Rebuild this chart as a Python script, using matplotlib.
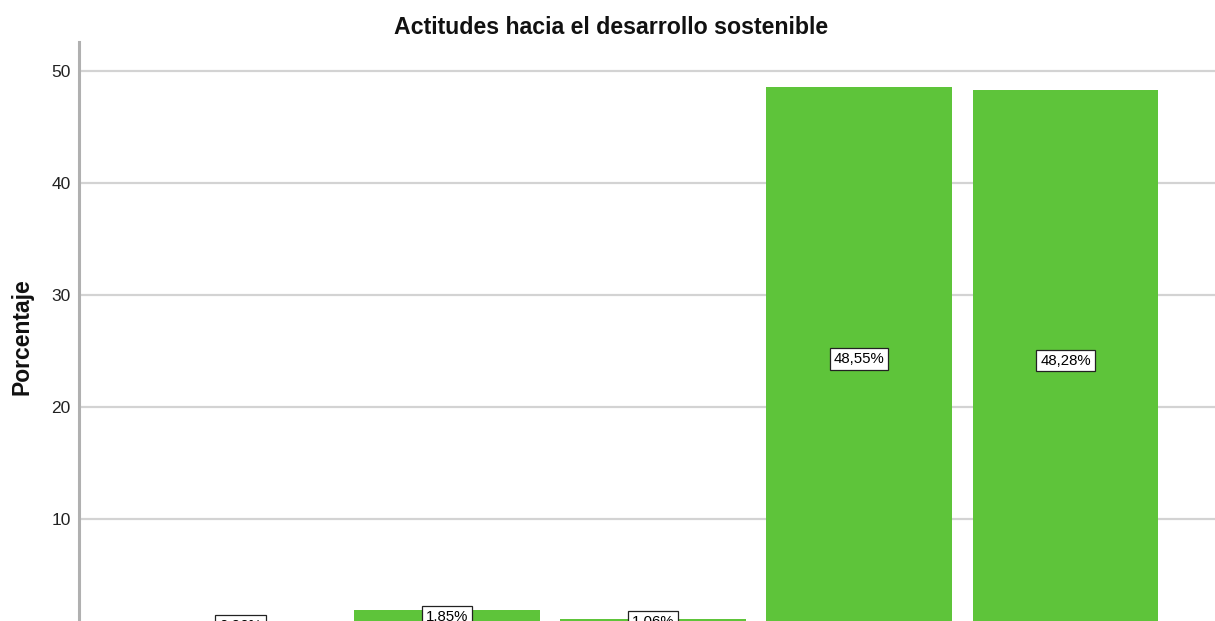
import matplotlib
matplotlib.use("Agg")
import matplotlib.pyplot as plt

categories = ["Cat 1", "Cat 2", "Cat 3", "Cat 4", "Cat 5"]
values = [0.26, 1.85, 1.06, 48.55, 48.28]
labels = ["0,26%", "1,85%", "1,06%", "48,55%", "48,28%"]
yticks = [10, 20, 30, 40, 50]

plt.rcParams['font.family'] = ['Liberation Sans', 'DejaVu Sans']

W, H = 1215, 621
fig = plt.figure(figsize=(W / 100, H / 100), dpi=100)
ax = fig.add_axes([79 / W, 0, 1 - 79 / W, 1 - 42 / H])

x = list(range(len(categories)))
ax.bar(x, values, width=0.9, color="#5ec43a", zorder=3)

for xi, v, lab in zip(x, values, labels):
    yy = v / 2 if v > 5 else v / 2 + 0.3
    ax.text(xi, yy, lab, ha="center", va="center", fontsize=10.8, color="#000000",
            zorder=5, clip_on=False,
            bbox=dict(boxstyle="square,pad=0.25", facecolor="white",
                      edgecolor="#222222", linewidth=0.9))

ax.set_xlim(-0.783, 4.725)
ax.set_ylim(0.89, 52.6)
ax.set_yticks(yticks)
ax.set_yticklabels([str(t) for t in yticks])
ax.set_xticks([])
ax.yaxis.grid(True, color="#d3d3d3", linewidth=1.6, zorder=0)
ax.set_axisbelow(True)
ax.tick_params(axis="y", length=0, pad=6, labelsize=12.5, labelcolor="#222222")

for s in ["top", "right", "bottom"]:
    ax.spines[s].set_visible(False)
ax.spines["left"].set_color("#b0b0b0")
ax.spines["left"].set_linewidth(2.2)

fig.text(611 / W, 1 - 28 / H, "Actitudes hacia el desarrollo sostenible",
         ha="center", va="center", fontsize=16.7, fontweight="bold", color="#111111")
fig.text(22 / W, 1 - 337 / H, "Porcentaje", rotation=90, ha="center", va="center",
         fontsize=16.5, fontweight="bold", color="#111111")

fig.savefig("out.png", dpi=100)
